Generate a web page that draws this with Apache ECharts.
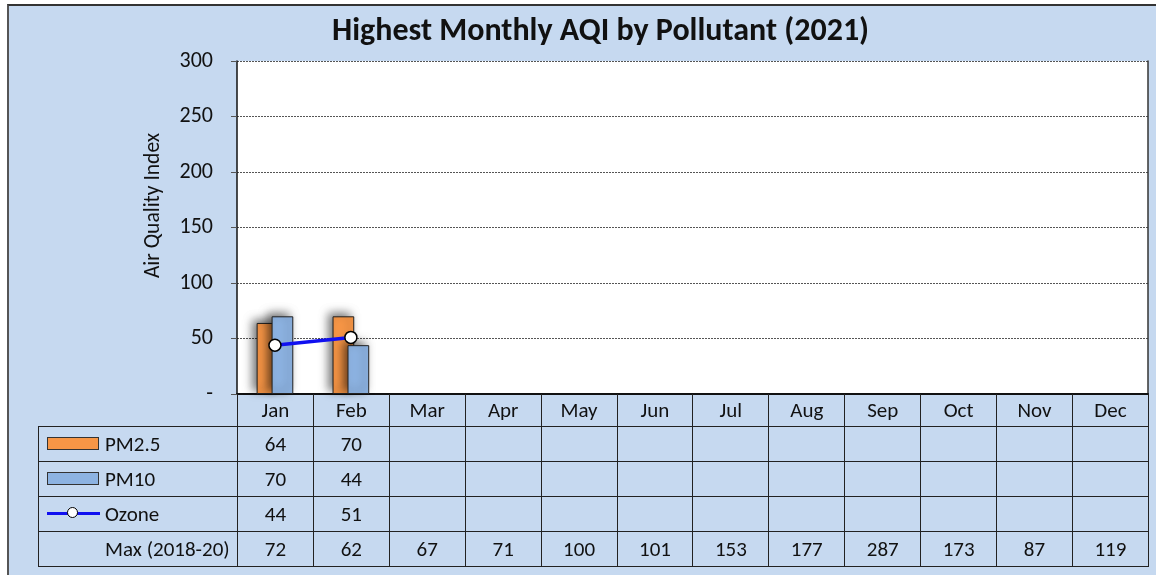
<!DOCTYPE html>
<html>
<head>
<meta charset="utf-8">
<script src="https://cdn.jsdelivr.net/npm/echarts@6/dist/echarts.min.js"></script>
<style>
  html, body { margin: 0; padding: 0; background: #fff; }
  body { width: 1156px; height: 575px; position: relative; overflow: hidden; font-family: Carlito, Lato, sans-serif; }
  #frame { position: absolute; left: 7px; top: 4px; width: 1160px; height: 580px; background: #C6D9F0; border-left: 2px solid #555; border-top: 2px solid #333; }
  #chart { position: absolute; left: 0; top: 0; width: 1156px; height: 575px; }
  #tbl { position: absolute; left: 38px; top: 394px; border-collapse: collapse; table-layout: fixed; width: 1110px; font-size: 21px; color: #111; }
  #tbl td { border: 1px solid #222; text-align: center; padding: 0; height: 34px; position: relative; }
  #tbl tr.head td { height: 32px; border-top: none; }
  #tbl tr.head td.blank { border-left: none; }
  #tbl td.lab { text-align: left; padding-left: 66px; }
  .key { position: absolute; left: 8px; top: 50%; }
  .key.bar { width: 50px; height: 11px; margin-top: -7px; border: 1px solid #333; }
  .key.line { width: 53px; height: 3px; margin-top: -2px; background: #1010F0; }
  .key.line i { position: absolute; left: 20px; top: -5px; width: 11px; height: 11px; border-radius: 50%; background: #fff; border: 1.5px solid #000; box-sizing: border-box; }
</style>
</head>
<body>
<div id="frame"></div>
<div id="chart"></div>
<table id="tbl"></table>
<script>
// 月份
const months = ['Jan', 'Feb', 'Mar', 'Apr', 'May', 'Jun', 'Jul', 'Aug', 'Sep', 'Oct', 'Nov', 'Dec']
// 2021 各污染物每月最高 AQI
const pm25 = [64, 70, null, null, null, null, null, null, null, null, null, null]
const pm10 = [70, 44, null, null, null, null, null, null, null, null, null, null]
const ozone = [44, 51, null, null, null, null, null, null, null, null, null, null]
// 2018-20 最大值
const max1820 = [72, 62, 67, 71, 100, 101, 153, 177, 287, 173, 87, 119]

const orange = '#F79646'
const blue = '#8DB3E2'
const lineBlue = '#1010F0'

const chart = echarts.init(document.getElementById('chart'))
const barShadow = {
  shadowColor: 'rgba(0,0,0,0.55)',
  shadowBlur: 10,
  shadowOffsetX: -4,
  shadowOffsetY: -3
}

chart.setOption({
  animation: false,
  textStyle: { fontFamily: 'Carlito, Lato, sans-serif' },
  title: {
    text: 'Highest Monthly AQI by Pollutant (2021)',
    left: 327,
    top: 11,
    textStyle: { fontSize: 32, fontWeight: 'bold', color: '#111' }
  },
  grid: {
    left: 237, right: 8, top: 61, bottom: 181,
    show: true, backgroundColor: '#fff', borderWidth: 0
  },
  xAxis: {
    type: 'category',
    data: months,
    axisLine: { lineStyle: { color: '#111', width: 2 } },
    axisTick: { show: false },
    axisLabel: { show: false }
  },
  yAxis: [
    {
      type: 'value',
      min: 0, max: 300, interval: 50,
      name: 'Air Quality Index',
      nameLocation: 'middle',
      nameGap: 72,
      nameTextStyle: { fontSize: 21.5, color: '#111', padding: [0, 0, 0, 44] },
      axisLine: { show: true, lineStyle: { color: '#111', width: 1.5 } },
      axisTick: { show: true, length: 6, lineStyle: { color: '#555' } },
      axisLabel: {
        margin: 24, fontSize: 22, color: '#111',
        formatter: v => v === 0 ? '-' : v
      },
      splitLine: { lineStyle: { color: '#555', type: [2, 1], width: 1 } }
    },
    {
      type: 'value',
      min: 0, max: 300,
      position: 'right',
      axisLine: { show: true, lineStyle: { color: '#333', width: 1.5 } },
      axisTick: { show: false },
      axisLabel: { show: false },
      splitLine: { show: false }
    }
  ],
  series: [
    {
      name: 'PM2.5', type: 'bar', data: pm25,
      barWidth: 21.7, barGap: '-31%',
      itemStyle: Object.assign({ color: orange, borderColor: '#222', borderWidth: 1 }, barShadow)
    },
    {
      name: 'PM10', type: 'bar', data: pm10,
      barWidth: 21.7,
      itemStyle: Object.assign({ color: blue, borderColor: '#222', borderWidth: 1 }, barShadow)
    },
    {
      name: 'Ozone', type: 'line', data: ozone,
      z: 5,
      symbol: 'circle', symbolSize: 12,
      lineStyle: { color: lineBlue, width: 3.5 },
      itemStyle: { color: '#fff', borderColor: '#000', borderWidth: 1.5 }
    }
  ]
})

// 数据表
const tbl = document.getElementById('tbl')
const colW = (1110 - 199) / 12
let html = '<colgroup><col style="width:199px">' + months.map(() => `<col style="width:${colW}px">`).join('') + '</colgroup>'
html += '<tr class="head"><td class="blank"></td>' + months.map(m => `<td>${m}</td>`).join('') + '</tr>'
const rows = [
  { label: 'PM2.5', key: `<span class="key bar" style="background:${orange}"></span>`, vals: pm25 },
  { label: 'PM10', key: `<span class="key bar" style="background:${blue}"></span>`, vals: pm10 },
  { label: 'Ozone', key: '<span class="key line"><i></i></span>', vals: ozone },
  { label: 'Max (2018-20)', key: '', vals: max1820 }
]
rows.forEach(r => {
  html += `<tr><td class="lab">${r.key}${r.label}</td>` + r.vals.map(v => `<td>${v == null ? '' : v}</td>`).join('') + '</tr>'
})
tbl.innerHTML = html
</script>
</body>
</html>
